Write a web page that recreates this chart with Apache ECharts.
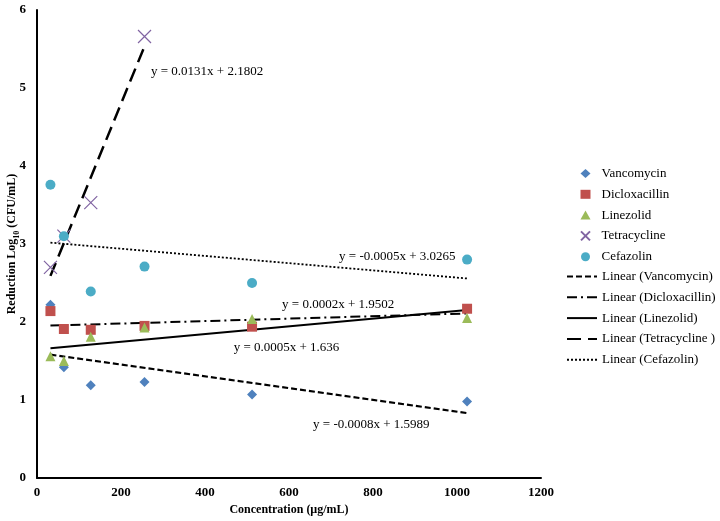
<!DOCTYPE html>
<html><head><meta charset="utf-8">
<script src="https://cdn.jsdelivr.net/npm/echarts@6/dist/echarts.min.js"></script>
<style>html,body{margin:0;padding:0;background:#fff}#c{width:720px;height:521px}</style>
</head><body><div id="c"></div>
<script>
const concentrations = [32, 64, 128, 256, 512, 1024];
const vancomycin   = [2.22, 1.42, 1.19, 1.23, 1.07, 0.98];
const dicloxacillin= [2.14, 1.91, 1.90, 1.95, 1.94, 2.17];
const linezolid    = [1.56, 1.50, 1.81, 1.93, 2.04, 2.05];
const tetraConc    = [32, 64, 128, 256];
const tetracycline = [2.70, 3.10, 3.53, 5.66];
const cefazolin    = [3.76, 3.10, 2.39, 2.71, 2.50, 2.80];

const eqLabels = ['y = -0.0008x + 1.5989','y = 0.0002x + 1.9502','y = 0.0005x + 1.636','y = 0.0131x + 2.1802','y = -0.0005x + 3.0265'];
const eqLabelPos = [[796,0.69],[717,2.22],[594,1.67],[405,5.205],[858,2.833]];

function fit(xs, ys){
  const n=xs.length, mx=xs.reduce((a,b)=>a+b)/n, my=ys.reduce((a,b)=>a+b)/n;
  let sxx=0,sxy=0; for(let i=0;i<n;i++){sxx+=(xs[i]-mx)**2;sxy+=(xs[i]-mx)*(ys[i]-my);}
  const m=sxy/sxx, b=my-m*mx;
  return [[xs[0], m*xs[0]+b],[xs[n-1], m*xs[n-1]+b]];
}
const serif = 'Liberation Serif';
const names = ['Vancomycin','Dicloxacillin','Linezolid','Tetracycline','Cefazolin'];
const colors = ['#4F81BD','#C0504D','#9BBB59','#8064A2','#4BACC6'];
const symbols = ['diamond','rect','triangle','path://M0,0L10,10M10,0L0,10','circle'];
const sizes = [10,10,10,13,10];
const xsets = [concentrations,concentrations,concentrations,tetraConc,concentrations];
const ysets = [vancomycin,dicloxacillin,linezolid,tetracycline,cefazolin];
const lineNames = ['Linear (Vancomycin)','Linear (Dicloxacillin)','Linear (Linezolid)','Linear (Tetracycline )','Linear (Cefazolin)'];
const dashes = [[6,3],[10,4,2,4],'solid',[14,7],[2,2]];
const widths = [2.2,2,2,2.5,1.8];

const series = [];
names.forEach((nm,i)=>{
  const isX = i===3;
  series.push({
    name:nm, type:'scatter', symbol:symbols[i], symbolSize:sizes[i],
    data: xsets[i].map((x,j)=>[x, ysets[i][j]]),
    itemStyle: isX ? {color:'rgba(0,0,0,0)', borderColor:colors[i], borderWidth:1.2, opacity:1} : {color:colors[i], opacity:1},
    z: 3
  });
});
lineNames.forEach((nm,i)=>{
  series.push({
    name:nm, type:'line', symbol:'circle', symbolSize:0, showSymbol:false, data: fit(xsets[i], ysets[i]),
    lineStyle:{color:'#000', width:widths[i], type:dashes[i]},
    itemStyle:{color:'rgba(0,0,0,0)', borderWidth:0},
    z: 2,
    markPoint:{
      symbol:'circle', symbolSize:0,
      data:[{coord:eqLabelPos[i], value:eqLabels[i]}],
      label:{show:true, position:'inside', formatter:eqLabels[i], color:'#000', fontFamily:serif, fontSize:13}
    }
  });
});

const chart = echarts.init(document.getElementById('c'), null, {renderer:'canvas'});
chart.setOption({
  animation:false,
  backgroundColor:'#fff',
  grid:{left:37, right:179, top:10, bottom:43, containLabel:false, outerBoundsMode:'none'},
  xAxis:{type:'value', min:0, max:1200, interval:200,
    axisLine:{lineStyle:{color:'#000', width:2}}, axisTick:{show:false}, splitLine:{show:false},
    axisLabel:{color:'#000', fontFamily:serif, fontWeight:'bold', fontSize:13, margin:8, formatter:v=>String(v)},
    name:'Concentration (µg/mL)', nameLocation:'middle', nameGap:26, nameMoveOverlap:false,
    nameTextStyle:{color:'#000', fontFamily:serif, fontWeight:'bold', fontSize:12}},
  yAxis:{type:'value', min:0, max:6, interval:1,
    axisLine:{show:true, lineStyle:{color:'#000', width:2}}, axisTick:{show:false}, splitLine:{show:false},
    axisLabel:{color:'#000', fontFamily:serif, fontWeight:'bold', fontSize:13, margin:11},
    name:'{a|Reduction Log}{s|10}{a| (CFU/mL)}', nameLocation:'middle', nameGap:19, nameMoveOverlap:false,
    nameTextStyle:{rich:{a:{color:'#000', fontFamily:serif, fontWeight:'bold', fontSize:12, verticalAlign:'bottom'},
                         s:{color:'#000', fontFamily:serif, fontWeight:'bold', fontSize:8, verticalAlign:'bottom', padding:[0,0,-3,0]}}}},
  legend:[
    {orient:'vertical', left:575, top:162, itemWidth:10, itemHeight:9, itemGap:7.8, data:names,
     textStyle:{color:'#000', fontFamily:serif, fontSize:13, padding:[0,0,0,6]}},
    {orient:'vertical', left:561, top:265, itemWidth:30, itemHeight:9, itemGap:7.8, data:lineNames,
     itemStyle:{color:'rgba(0,0,0,0)', borderWidth:0},
     textStyle:{color:'#000', fontFamily:serif, fontSize:13}}
  ],
  series
});
</script></body></html>
